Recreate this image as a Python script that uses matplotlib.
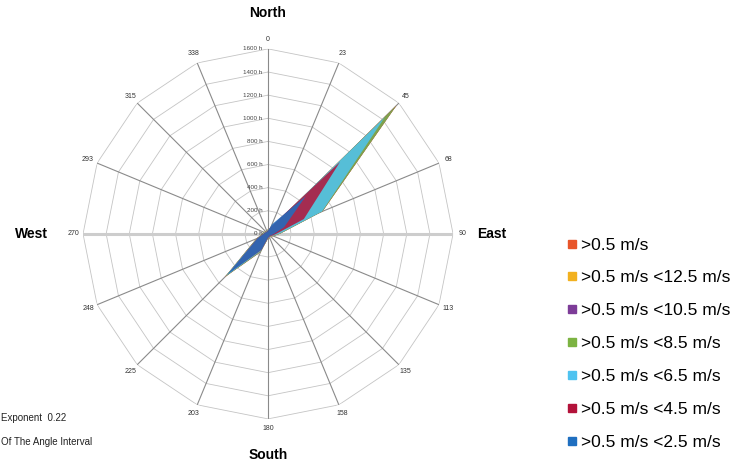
import numpy as np
import matplotlib.pyplot as plt
from matplotlib.lines import Line2D
from matplotlib.transforms import offset_copy

plt.rcParams["font.family"] = ["Liberation Sans", "DejaVu Sans"]

# ---------------------------------------------------------------------------
# Data (hours per direction sector)
# ---------------------------------------------------------------------------
DIRECTIONS = [0, 23, 45, 68, 90, 113, 135, 158, 180, 203, 225, 248, 270, 293, 315, 338]
R_TICKS = [0, 200, 400, 600, 800, 1000, 1200, 1400, 1600]

LABELS = [
    ">0.5 m/s",
    ">0.5 m/s <12.5 m/s",
    ">0.5 m/s <10.5 m/s",
    ">0.5 m/s <8.5 m/s",
    ">0.5 m/s <6.5 m/s",
    ">0.5 m/s <4.5 m/s",
    ">0.5 m/s <2.5 m/s",
]
COLORS = ["#e8552a", "#f2b11f", "#7d3c98", "#7cb342", "#4fc3f0", "#b3123a", "#1f6fc0"]

hours_all   = [40, 50, 1570, 510, 100, 50, 30, 40, 40, 170, 525, 110, 50, 40, 30, 30]
hours_125   = [40, 50, 1570, 510, 100, 50, 30, 40, 40, 170, 525, 110, 50, 40, 30, 30]
hours_105   = [40, 50, 1570, 510, 100, 50, 30, 40, 40, 170, 525, 110, 50, 40, 30, 30]
hours_85    = [40, 50, 1570, 510, 100, 50, 30, 40, 40, 168, 522, 110, 50, 40, 30, 30]
hours_65    = [35, 55, 1430, 505, 95, 45, 28, 35, 38, 160, 512, 105, 45, 35, 25, 28]
hours_45    = [30, 70, 880, 335, 70, 40, 25, 30, 35, 150, 470, 100, 40, 30, 22, 25]
hours_25    = [25, 90, 460, 150, 50, 30, 20, 25, 30, 145, 500, 95, 35, 25, 20, 20]
SERIES = [hours_all, hours_125, hours_105, hours_85, hours_65, hours_45, hours_25]

RMAX = 1600

# ---------------------------------------------------------------------------
# Plot
# ---------------------------------------------------------------------------
fig = plt.figure(figsize=(7.48, 4.65), dpi=100)
ax = fig.add_axes([0.111, 0.099, 0.4947, 0.796], projection="polar")
ax.set_theta_zero_location("N")
ax.set_theta_direction(-1)
ax.set_ylim(0, RMAX)
ax.grid(False)
ax.set_xticks([])
ax.set_yticks([])
ax.spines["polar"].set_visible(False)

theta = np.deg2rad(np.arange(len(DIRECTIONS)) * 22.5)
theta_closed = np.append(theta, theta[0])

# polygon rings
for r in R_TICKS[1:]:
    ax.plot(theta_closed, [r] * len(theta_closed), color="#c4c4c4", lw=0.6, zorder=1)

# spokes
for i, t in enumerate(theta):
    if DIRECTIONS[i] in (90, 270):
        ax.plot([t, t], [0, RMAX], color="#cdcdcd", lw=2.2, zorder=1)
    else:
        ax.plot([t, t], [0, RMAX], color="#8a8a8a", lw=0.8, zorder=1)

# series, largest first
for vals, color in zip(SERIES, COLORS):
    v = np.append(vals, vals[0])
    ax.fill(theta_closed, v, color=color, alpha=0.85, lw=0, zorder=3)

# direction labels
for t, d in zip(theta, DIRECTIONS):
    ax.text(t, 1685, str(d), fontsize=5, ha="center", va="center", color="#333333")

# radial labels
lab_tr = offset_copy(ax.transData, fig=fig, x=-4, y=0, units="points")
for r in R_TICKS:
    ax.text(0, r, f"{r} h", transform=lab_tr, fontsize=4.5, ha="right", va="center",
            color="#444444", zorder=4)

# compass labels
ax.text(0, 1850, "North", fontsize=10, fontweight="bold", ha="center", va="bottom")
ax.text(np.pi / 2, 1805, "East", fontsize=10, fontweight="bold", ha="left", va="center")
ax.text(np.pi, 1850, "South", fontsize=10, fontweight="bold", ha="center", va="top")
ax.text(3 * np.pi / 2, 1900, "West", fontsize=10, fontweight="bold", ha="right", va="center")

# notes bottom-left
fig.text(0.002, 0.101, "Exponent  0.22", fontsize=7, va="center", color="#222222")
fig.text(0.002, 0.049, "Of The Angle Interval", fontsize=7, va="center", color="#222222")

# legend
handles = [Line2D([], [], marker="s", ls="", color=c, markersize=6) for c in COLORS]
fig.legend(handles, LABELS, loc="upper left", bbox_to_anchor=(0.744, 0.508),
           frameon=False, fontsize=12.5, labelspacing=1.02, handletextpad=0.1,
           handlelength=0.8, borderpad=0)

fig.savefig("out.png", dpi=100)
